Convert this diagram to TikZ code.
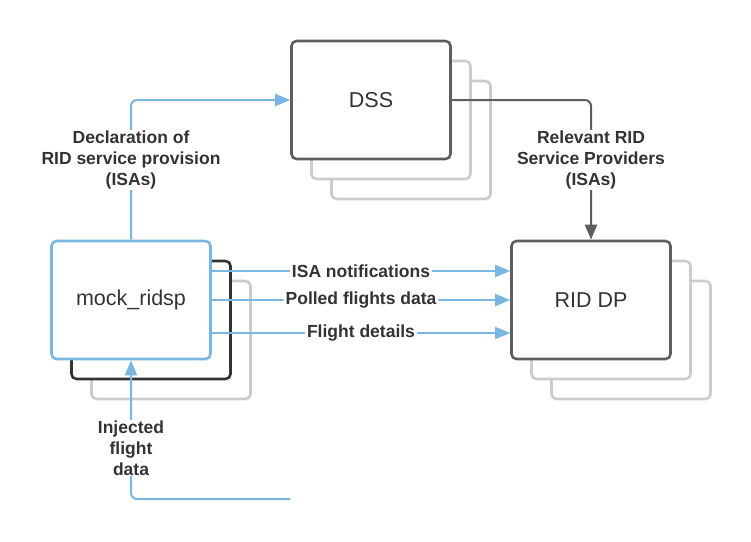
\documentclass[tikz,border=0pt]{standalone}
\usepackage{fontspec}
\setmainfont{Liberation Sans}
\usetikzlibrary{positioning,arrows.meta}
\definecolor{flowblue}{HTML}{7AB6E2}
\definecolor{boxgray}{HTML}{5E5E5E}
\definecolor{backgray}{HTML}{CCCCCC}
\definecolor{backdark}{HTML}{333333}
\definecolor{txtgray}{HTML}{333333}

\begin{document}
\begin{tikzpicture}[x=1pt, y=-1pt,
    box/.style={draw, line width=2.6pt, rounded corners=5pt, fill=white,
                minimum width=159pt, minimum height=118pt, inner sep=0pt,
                text=txtgray, font=\fontsize{21.5}{25}\selectfont},
    back/.style={box, draw=backgray},
    flow/.style={line width=2pt, draw=flowblue, rounded corners=6pt,
                 -{Triangle[length=15pt,width=12pt]}},
    lbl/.style={fill=white, inner xsep=2pt, inner ysep=1pt, align=center,
                text=txtgray, font=\fontsize{17.5}{21}\selectfont\bfseries},
]
\useasboundingbox (0,0) rectangle (751,541);

% DSS with its copies
\node[back] (dssc) at (411,140) {};
\node[back] (dssb) at (391,120) {};
\node[box, draw=boxgray] (dss) at (371,100) {DSS};

% mock_ridsp
\node[back] (mockc) at (171,340) {};
\node[box, draw=backdark] (mockb) at (151,320) {};
\node[box, draw=flowblue] (mock) at (131,300) {mock\_ridsp};

% RID DP with its copies
\node[back] (riddpc) at (631,340) {};
\node[back] (riddpb) at (611,320) {};
\node[box, draw=boxgray] (riddp) at (591,300) {RID DP};

% connectors
\draw[flow] (mock.north) |- (dss.west);
\node[lbl] (decl) at (131,160) {Declaration of\\RID service provision\\(ISAs)};

\draw[flow, draw=boxgray] (dss.east) -| (riddp.north);
\node[lbl] (rel) at (591,160) {Relevant RID\\Service Providers\\(ISAs)};

\coordinate (y1) at (0,271);
\coordinate (y2) at (0,300);
\coordinate (y3) at (0,333);
\draw[flow] (mock.east |- y1) -- (riddp.west |- y1)
    node[midway, lbl] {ISA notifications};
\draw[flow] (mock.east |- y2) -- (riddp.west |- y2)
    node[midway, lbl] {Polled flights data};
\draw[flow] (mock.east |- y3) -- (riddp.west |- y3)
    node[midway, lbl] {Flight details};

\coordinate (inj) at (290,499);
\draw[flow] (inj) -| (mock.south);
\node[lbl] (injl) at (131,448) {Injected\\flight\\data};
\end{tikzpicture}
\end{document}
